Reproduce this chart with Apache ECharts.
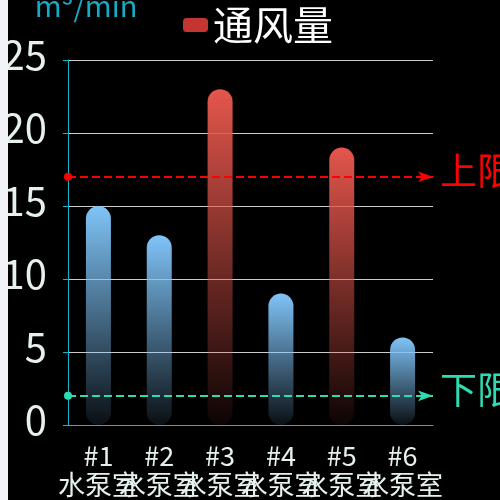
<!DOCTYPE html>
<html><head><meta charset="utf-8">
<script src="https://cdn.jsdelivr.net/npm/echarts@6/dist/echarts.min.js"></script>
<style>
html,body{margin:0;padding:0;background:#f2f3f8;overflow:hidden;width:500px;height:500px;}
#c{position:absolute;left:8px;top:0;width:500px;height:500px;background:#000;}
</style></head><body>
<div id="c"></div>
<script>
const pumps = ['#1', '#2', '#3', '#4', '#5', '#6'];
const roomName = '水泵室';
const airflow = [15, 13, 23, 9, 19, 6];
const upperLimit = 17;
const lowerLimit = 2;
const seriesName = '通风量';
const unitName = 'm³/min';

const categories = pumps.map(p => p + '\n' + roomName);
const FONT = '"Noto Sans CJK SC", sans-serif';

function barColor(v) {
  if (v > upperLimit) {
    return new echarts.graphic.LinearGradient(0, 0, 0, 1, [
      { offset: 0, color: 'rgba(228,86,76,1)' },
      { offset: 1, color: 'rgba(228,86,76,0.05)' }
    ]);
  }
  return new echarts.graphic.LinearGradient(0, 0, 0, 1, [
    { offset: 0, color: 'rgba(128,196,248,1)' },
    { offset: 1, color: 'rgba(128,196,248,0.08)' }
  ]);
}

const chart = echarts.init(document.getElementById('c'));
chart.setOption({
  backgroundColor: '#000',
  animation: false,
  textStyle: { fontFamily: FONT },
  legend: {
    top: 0,
    left: 'center',
    itemWidth: 25,
    itemHeight: 14,
    itemGap: 10,
    data: [{ name: seriesName, itemStyle: { color: '#c23531' } }],
    textStyle: { color: '#fff', fontSize: 40, fontFamily: FONT, padding: [0, 0, 14, 0] }
  },
  grid: { left: 60, right: 75, top: 60, bottom: 75, containLabel: false, outerBoundsMode: 'none' },
  xAxis: {
    type: 'category',
    data: categories,
    axisLine: { lineStyle: { color: '#14b6cf', width: 1 } },
    axisTick: { show: false },
    axisLabel: { color: '#e6f1ed', fontSize: 27, lineHeight: 29, margin: 16, interval: 0, fontFamily: FONT }
  },
  yAxis: {
    type: 'value',
    min: 0, max: 25, interval: 5,
    name: unitName,
    nameLocation: 'end',
    nameGap: 40,
    nameTextStyle: { color: '#17abc6', fontSize: 29, align: 'center', padding: [0, 0, 0, 36], fontFamily: FONT },
    axisLine: { show: true, lineStyle: { color: '#14b6cf', width: 1 } },
    axisTick: { show: true, length: 5, lineStyle: { color: '#14b6cf' } },
    axisLabel: { color: '#e6f1ed', fontSize: 40, margin: 21, verticalAlign: 'bottom', lineHeight: 10, fontFamily: FONT },
    splitLine: { show: true, lineStyle: { color: '#cccccc', width: 1 } }
  },
  series: [{
    name: seriesName,
    type: 'bar',
    barWidth: 25,
    data: airflow.map(v => ({ value: v, itemStyle: { color: barColor(v), borderRadius: 12.5 } })),
    markLine: {
      silent: true,
      symbol: ['circle', 'arrow'],
      symbolSize: [8, 15],
      precision: 0,
      data: [
        {
          yAxis: upperLimit,
          lineStyle: { color: '#ff0000', type: 'dashed', width: 2 },
          itemStyle: { color: '#ff0000' },
          label: { formatter: '上限', color: '#ff0000', fontSize: 37, position: 'end', distance: 7, verticalAlign: 'bottom', lineHeight: 12, fontFamily: FONT }
        },
        {
          yAxis: lowerLimit,
          lineStyle: { color: '#2edcb2', type: 'dashed', width: 2 },
          itemStyle: { color: '#2edcb2' },
          label: { formatter: '下限', color: '#2edcb2', fontSize: 37, position: 'end', distance: 7, verticalAlign: 'bottom', lineHeight: 12, fontFamily: FONT }
        }
      ]
    }
  }]
});
</script>
</body></html>
